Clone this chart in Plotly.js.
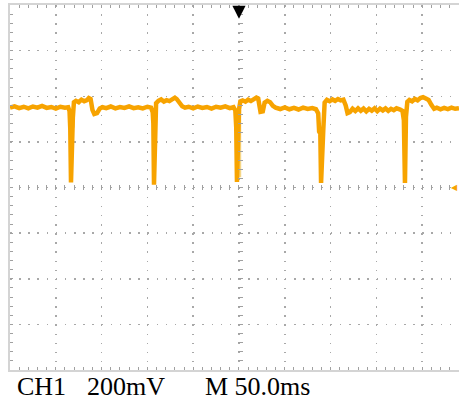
<!DOCTYPE html>
<html>
<head>
<meta charset="utf-8">
<script src="https://cdn.plot.ly/plotly-3.0.1.min.js"></script>
<style>html,body{margin:0;padding:0;background:#fff;}#chart{width:459px;height:403px;}</style>
</head>
<body>
<div id="chart"></div>
<script>
// Time (ms) and CH1 voltage (mV), 50 ms/div, 200 mV/div
const timeMs = [0,5,10,15,20,25,30,35,40,45,50,55,60,63.5,65,65.8,66.6,67.6,68.6,69.8,
  72,75,78,81,84,86,88,90,92,95,98,101,105,110,115,120,125,130,135,140,145,150,154,
  155.8,156.5,157.2,158.2,159.5,162,165,168,171,174,177,180,182,185,188,191,195,200,205,210,215,220,225,230,235,240,244,
  246,247,247.8,248.8,250,251.5,254,257,260,263,266,269,271,273.5,276,278,281,284,287,290,295,300,305,310,315,320,325,330,334,
  336.5,337.5,338.8,339.6,340.8,342,343.5,346,349,352,355,358,361,364,366.5,368.5,371,374,377,380,383,386,389,392,395,398,401,404,407,410,413,416,419,422,426,
  428.5,430,431.2,432.3,433.8,436,439,442,445,448,451,454,457,460,463,466,470,474,478,482,486,490.2];
const ch1mV = [350,356,348,354,347,355,350,358,349,353,346,354,350,352,335,258,22,252,305,374,
  380,374,385,378,383,392,388,340,322,326,346,352,348,355,347,353,349,356,348,352,347,354,350,
  330,280,12,300,370,380,386,377,383,379,387,394,388,372,356,350,354,347,355,349,353,346,354,350,356,348,352,
  338,262,24,210,342,378,382,376,385,379,386,394,390,332,334,372,380,374,358,350,344,351,343,349,342,350,344,348,343,
  325,245,236,20,238,250,372,384,378,386,380,388,382,385,360,326,330,345,335,347,336,346,334,345,337,347,335,346,338,347,336,345,339,347,342,
  336,295,20,310,376,384,378,388,382,392,396,390,384,362,345,350,343,349,344,350,345,348];
// faint persistence next to some glitches
const glowMs = [68.9,68.9,null,250.8,250.8,null];
const glowMv = [340,262,null,340,45,null];

const labels = ['CH1', '200mV', 'M 50.0ms'];

const xRange = [0, 490.2];
const yRange = [-800, 800];
const gridDot = '#a8a8a8';
const tickGray = '#a0a0a0';
const traceColor = '#f7a300';

const traces = [
  {x: glowMs, y: glowMv, type: 'scatter', mode: 'lines', line: {color: '#f6d685', width: 3}, hoverinfo: 'skip', showlegend: false},
  {x: timeMs, y: ch1mV, type: 'scatter', mode: 'lines', line: {color: traceColor, width: 4.5}, hoverinfo: 'skip', showlegend: false},
  {x: [], y: [], xaxis: 'x2', yaxis: 'y', type: 'scatter', showlegend: false, hoverinfo: 'skip'},
  {x: [], y: [], xaxis: 'x', yaxis: 'y2', type: 'scatter', showlegend: false, hoverinfo: 'skip'}
];

const labelFont = {family: 'Liberation Serif', size: 26, color: '#000'};

const layout = {
  width: 459, height: 403,
  margin: {l: 10, r: 0, t: 5, b: 33, pad: 0},
  paper_bgcolor: '#ffffff', plot_bgcolor: '#ffffff',
  showlegend: false,
  xaxis: {
    range: xRange, tick0: 0, dtick: 50, showticklabels: false,
    showgrid: true, gridcolor: gridDot, gridwidth: 1.5, griddash: '1.5px,7.625px',
    zeroline: false, showline: true, linecolor: '#d4d4d4', linewidth: 2, mirror: 'allticks',
    ticks: 'inside', ticklen: 3, tickcolor: tickGray, tickwidth: 1,
    minor: {tick0: 0, dtick: 10, ticks: 'inside', ticklen: 3, tickcolor: tickGray, tickwidth: 1, showgrid: false}
  },
  yaxis: {
    range: yRange, tick0: 0, dtick: 200, showticklabels: false,
    showgrid: true, gridcolor: gridDot, gridwidth: 1.5, griddash: '1.5px,7.663px',
    zeroline: false, showline: true, linecolor: '#d4d4d4', linewidth: 2, mirror: false,
    ticks: 'inside', ticklen: 3, tickcolor: tickGray, tickwidth: 1,
    minor: {tick0: 0, dtick: 40, ticks: 'inside', ticklen: 3, tickcolor: tickGray, tickwidth: 1, showgrid: false}
  },
  xaxis2: {
    overlaying: 'x', anchor: 'free', position: 0.4932, range: xRange,
    tick0: 0, dtick: 10, ticks: 'inside', ticklen: 5, tickcolor: tickGray, tickwidth: 1,
    showticklabels: false, showgrid: false, zeroline: false, showline: false
  },
  yaxis2: {
    overlaying: 'y', anchor: 'free', position: 0.5045, range: yRange,
    tick0: 0, dtick: 40, ticks: 'inside', ticklen: 5, tickcolor: tickGray, tickwidth: 1,
    showticklabels: false, showgrid: false, zeroline: false, showline: false
  },
  annotations: [
    {x: 250, xref: 'x', y: 0.962, yref: 'paper', text: '', showarrow: true,
     ax: 0, ay: -14, arrowhead: 2, arrowsize: 1.1, arrowwidth: 2.4, arrowcolor: '#000000'},
    {x: 1, xref: 'paper', y: 0, yref: 'y', text: '◀', showarrow: false, xanchor: 'right', yanchor: 'middle',
     borderpad: 0, font: {family: 'DejaVu Sans', size: 8, color: traceColor}},
    {x: (15 - 10) / 449, xref: 'paper', y: -0.044, yref: 'paper', text: labels[0], showarrow: false,
     xanchor: 'left', yanchor: 'middle', font: labelFont},
    {x: (85 - 10) / 449, xref: 'paper', y: -0.044, yref: 'paper', text: labels[1], showarrow: false,
     xanchor: 'left', yanchor: 'middle', font: labelFont},
    {x: (203 - 10) / 449, xref: 'paper', y: -0.044, yref: 'paper', text: labels[2], showarrow: false,
     xanchor: 'left', yanchor: 'middle', font: labelFont}
  ]
};

Plotly.newPlot('chart', traces, layout, {staticPlot: true, displayModeBar: false});
</script>
</body>
</html>
